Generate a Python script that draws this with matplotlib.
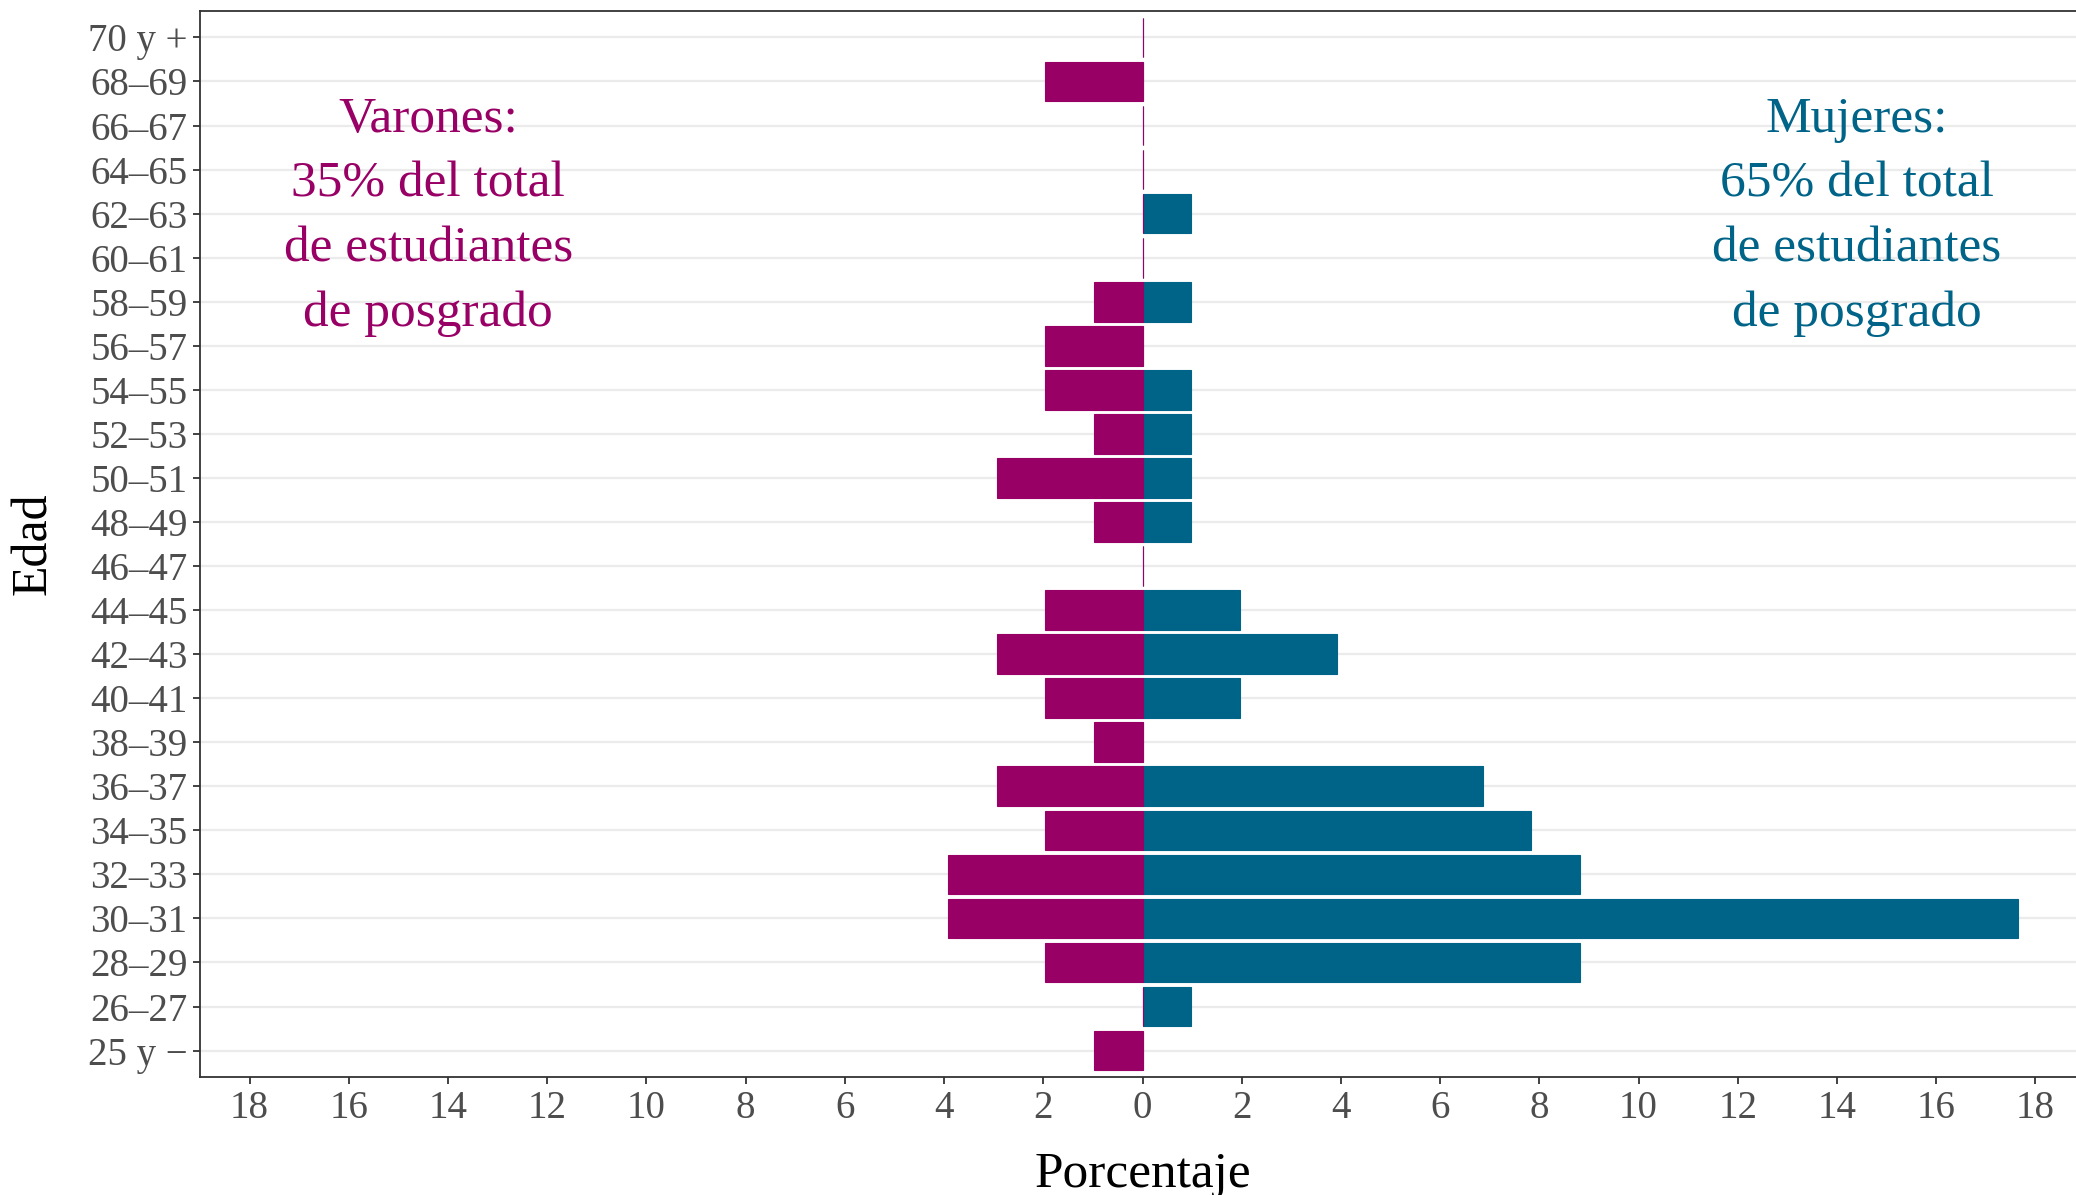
import matplotlib
matplotlib.use("Agg")
import matplotlib.pyplot as plt

# Grupos de edad (de abajo hacia arriba)
edades = ["25 y \u2212", "26\u201327", "28\u201329", "30\u201331", "32\u201333", "34\u201335",
          "36\u201337", "38\u201339", "40\u201341", "42\u201343", "44\u201345", "46\u201347",
          "48\u201349", "50\u201351", "52\u201353", "54\u201355", "56\u201357", "58\u201359",
          "60\u201361", "62\u201363", "64\u201365", "66\u201367", "68\u201369", "70 y +"]

# Porcentajes sobre el total (102 estudiantes)
varones = [0.98, 0, 1.96, 3.92, 3.92, 1.96, 2.94, 0.98, 1.96, 2.94, 1.96, 0,
           0.98, 2.94, 0.98, 1.96, 1.96, 0.98, 0, 0, 0, 0, 1.96, 0]
mujeres = [0, 0.98, 8.82, 17.65, 8.82, 7.84, 6.86, 0, 1.96, 3.92, 1.96, 0,
           0.98, 0.98, 0.98, 0.98, 0, 0.98, 0, 0.98, 0, 0, 0, 0]

ticks_x = [-18, -16, -14, -12, -10, -8, -6, -4, -2, 0, 2, 4, 6, 8, 10, 12, 14, 16, 18]

color_v = "#990066"
color_m = "#006388"
fuente = "Liberation Serif"

W, H = 2076, 1195
fig = plt.figure(figsize=(W / 100, H / 100), dpi=100)
ax = fig.add_axes([200 / W, 1 - 1077 / H, (2085 - 200) / W, (1077 - 11) / H])

y = list(range(len(edades)))
ax.barh(y, mujeres, height=0.9, color=color_m, edgecolor=color_m, linewidth=0.8, zorder=2)
ax.barh(y, [-v for v in varones], height=0.9, color=color_v, edgecolor=color_v,
        linewidth=0.8, zorder=3)

ax.set_xlim(-19, 19)
ax.set_ylim(-0.6, len(edades) - 0.4)
ax.set_yticks(y)
ax.set_yticklabels(edades)
ax.set_xticks(ticks_x)
ax.set_xticklabels([str(abs(t)) for t in ticks_x])

ax.grid(axis="y", color="#EBEBEB", linewidth=1.6, zorder=0)
ax.set_axisbelow(True)
for s in ax.spines.values():
    s.set_color("#333333")
    s.set_linewidth(1.3)
ax.tick_params(axis="both", colors="#333333", length=5, width=1.3,
               labelsize=28, labelcolor="#4D4D4D", pad=4)
for lab in ax.get_xticklabels() + ax.get_yticklabels():
    lab.set_family(fuente)

ax.set_xlabel("Porcentaje", fontsize=37, family=fuente, color="black", va="center")
ax.xaxis.set_label_coords(0.5, -0.092)
ax.set_ylabel("Edad", fontsize=36, family=fuente, color="black", va="center")
ax.yaxis.set_label_coords(-0.088, 0.5)

ax.text(-14.4, 18.93, "Varones:\n35% del total\nde estudiantes\nde posgrado",
        color=color_v, fontsize=37, family=fuente, ha="center", va="center",
        linespacing=1.52)
ax.text(14.4, 18.93, "Mujeres:\n65% del total\nde estudiantes\nde posgrado",
        color=color_m, fontsize=37, family=fuente, ha="center", va="center",
        linespacing=1.52)

fig.savefig("out.png", dpi=100)
